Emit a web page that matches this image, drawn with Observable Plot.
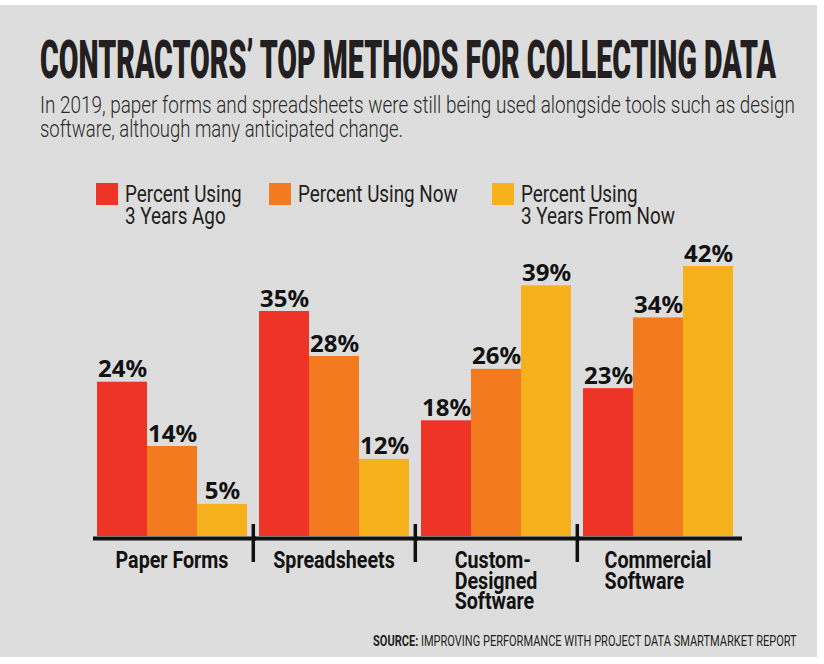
<!DOCTYPE html>
<html>
<head>
<meta charset="utf-8">
<script src="https://cdn.jsdelivr.net/npm/d3@7"></script>
<script src="https://cdn.jsdelivr.net/npm/@observablehq/plot@0.6"></script>
<style>
  html, body { margin: 0; padding: 0; background: #ffffff; }
  #page { position: relative; width: 824px; height: 664px; background: #ffffff; overflow: hidden; }
  #panel { position: absolute; left: 0; top: 5px; width: 817px; height: 652px; background: #dddddd; }
  .abs { position: absolute; left: 0; top: 0; }
  .legend-item { position: absolute; display: flex; align-items: flex-start; }
  .swatch { width: 22px; height: 22px; margin-right: 7px; flex: none; }
  .legend-label { font-family: Roboto, sans-serif; font-size: 23px; line-height: 22px; color: #231f20;
    margin-top: 1px; white-space: nowrap; transform: scaleX(0.82); transform-origin: 0 0; }
</style>
</head>
<body>
<div id="page">
  <div id="panel"></div>
  <svg class="abs" width="824" height="150" id="head"></svg>
  <div id="legend"></div>
  <div id="chart" class="abs" style="top:240px;"></div>
  <svg class="abs" width="824" height="664" id="foot" style="pointer-events:none;"></svg>
</div>
<script>
// ---- data ----
const groups = ["Paper Forms", "Spreadsheets", "Custom-Designed Software", "Commercial Software"];
const groupLabels = ["Paper Forms", "Spreadsheets", "Custom-\nDesigned\nSoftware", "Commercial\nSoftware"];
const series = ["Percent Using 3 Years Ago", "Percent Using Now", "Percent Using 3 Years From Now"];
const legendLabels = ["Percent Using\n3 Years Ago", "Percent Using Now", "Percent Using\n3 Years From Now"];
const threeYearsAgo = [24, 35, 18, 23];
const now = [14, 28, 26, 34];
const threeYearsFromNow = [5, 12, 39, 42];
const colors = ["#ee3427", "#f47a20", "#f7b11c"];

const title = "CONTRACTORS\u2019 TOP METHODS FOR COLLECTING DATA";
const subtitleLines = [
  "In 2019, paper forms and spreadsheets were still being used alongside tools such as design",
  "software, although many anticipated change."
];
const sourceBold = "SOURCE:";
const sourceText = " IMPROVING PERFORMANCE WITH PROJECT DATA SMARTMARKET REPORT";

// ---- table ----
const seriesValues = [threeYearsAgo, now, threeYearsFromNow];
const table = [];
groups.forEach((g, gi) => series.forEach((s, si) => table.push({group: g, series: s, value: seriesValues[si][gi]})));
const labelOf = new Map(groups.map((g, i) => [g, groupLabels[i]]));

// fit a text horizontally to a given width by condensing it (scaleX)
function fitWidth(sel, x, y, width) {
  const natural = sel.node().getComputedTextLength();
  sel.attr("transform", `translate(${x},${y}) scale(${width / natural},1)`);
}

// ---- header (title + subtitle) ----
const head = d3.select("#head");
const t = head.append("text")
  .style("font-family", "Roboto, 'Liberation Sans', sans-serif")
  .style("font-weight", 900).style("font-size", "54px")
  .style("fill", "#231f20")
  .text(title);
fitWidth(t, 40, 78, 736);
const subLens = [755, 363];
subtitleLines.forEach((line, i) => {
  const s = head.append("text")
    .style("font-family", "Roboto, sans-serif")
    .style("font-weight", 300).style("font-size", "23px")
    .style("fill", "#2a2a2a")
    .text(line);
  fitWidth(s, 40, 113 + i * 24, subLens[i]);
});

// ---- legend ----
const legendX = [96, 269, 492];
const legend = d3.select("#legend");
series.forEach((s, i) => {
  const item = legend.append("div").attr("class", "legend-item").style("left", legendX[i] + "px").style("top", "183px");
  item.append("div").attr("class", "swatch").style("background", colors[i]);
  item.append("div").attr("class", "legend-label").html(legendLabels[i].replace("\n", "<br>"));
});

// ---- chart ----
const chart = Plot.plot({
  width: 824,
  height: 390,
  marginLeft: 96,
  marginRight: 91,
  marginTop: 26,
  marginBottom: 94,
  style: {background: "transparent", overflow: "visible", color: "#111"},
  fx: {domain: groups, paddingInner: 0.07, paddingOuter: 0, axis: null, label: null},
  x: {domain: series, padding: 0, axis: null, label: null},
  y: {domain: [0, 42], axis: null, label: null},
  color: {domain: series, range: colors},
  marks: [
    Plot.barY(table, {fx: "group", x: "series", y: "value", fill: "series"}),
    Plot.ruleY([0], {stroke: "#111", strokeWidth: 4, dy: 2, insetLeft: -3, insetRight: -9}),
    Plot.ruleX(groups.slice(0, 3), {fx: d => d, x: () => series[2], y1: () => 0, y2: () => 0,
      dx: 30.8, insetTop: -12, insetBottom: -26, stroke: "#111", strokeWidth: 3.5}),
    Plot.text(table, {fx: "group", x: "series", y: "value", text: d => d.value + "%",
      dy: -5, lineAnchor: "bottom", fontSize: 24, fontWeight: 700,
      fontFamily: "'Noto Sans', 'Open Sans', sans-serif", fill: "#111"}),
    Plot.text(groups, {fx: d => d, text: d => labelOf.get(d), frameAnchor: "bottom",
      lineAnchor: "top", dy: 17, lineHeight: 0.86, fontSize: 24, fontWeight: 700,
      fontFamily: "Roboto, sans-serif", fill: "#111", ariaLabel: () => "category"})
  ]
});
document.getElementById("chart").append(chart);

// condensed look for category labels; multi-line labels left-aligned within a centred block
d3.select(chart).selectAll('text[aria-label="category"]').each(function () {
  const sel = d3.select(this);
  const tr = sel.attr("transform") || "";
  sel.attr("transform", tr + " scale(0.82,1)");
  const tspans = sel.selectAll("tspan");
  if (tspans.size() < 2) return;
  const w = this.getBBox().width;
  sel.attr("text-anchor", "start");
  tspans.attr("x", -w / 2);
});

// ---- source ----
const foot = d3.select("#foot");
const src = foot.append("text")
  .style("font-family", "Roboto, sans-serif").style("font-size", "14px").style("fill", "#231f20");
src.append("tspan").style("font-weight", 700).text(sourceBold);
src.append("tspan").text(sourceText);
fitWidth(src, 373, 646, 424);
</script>
</body>
</html>
